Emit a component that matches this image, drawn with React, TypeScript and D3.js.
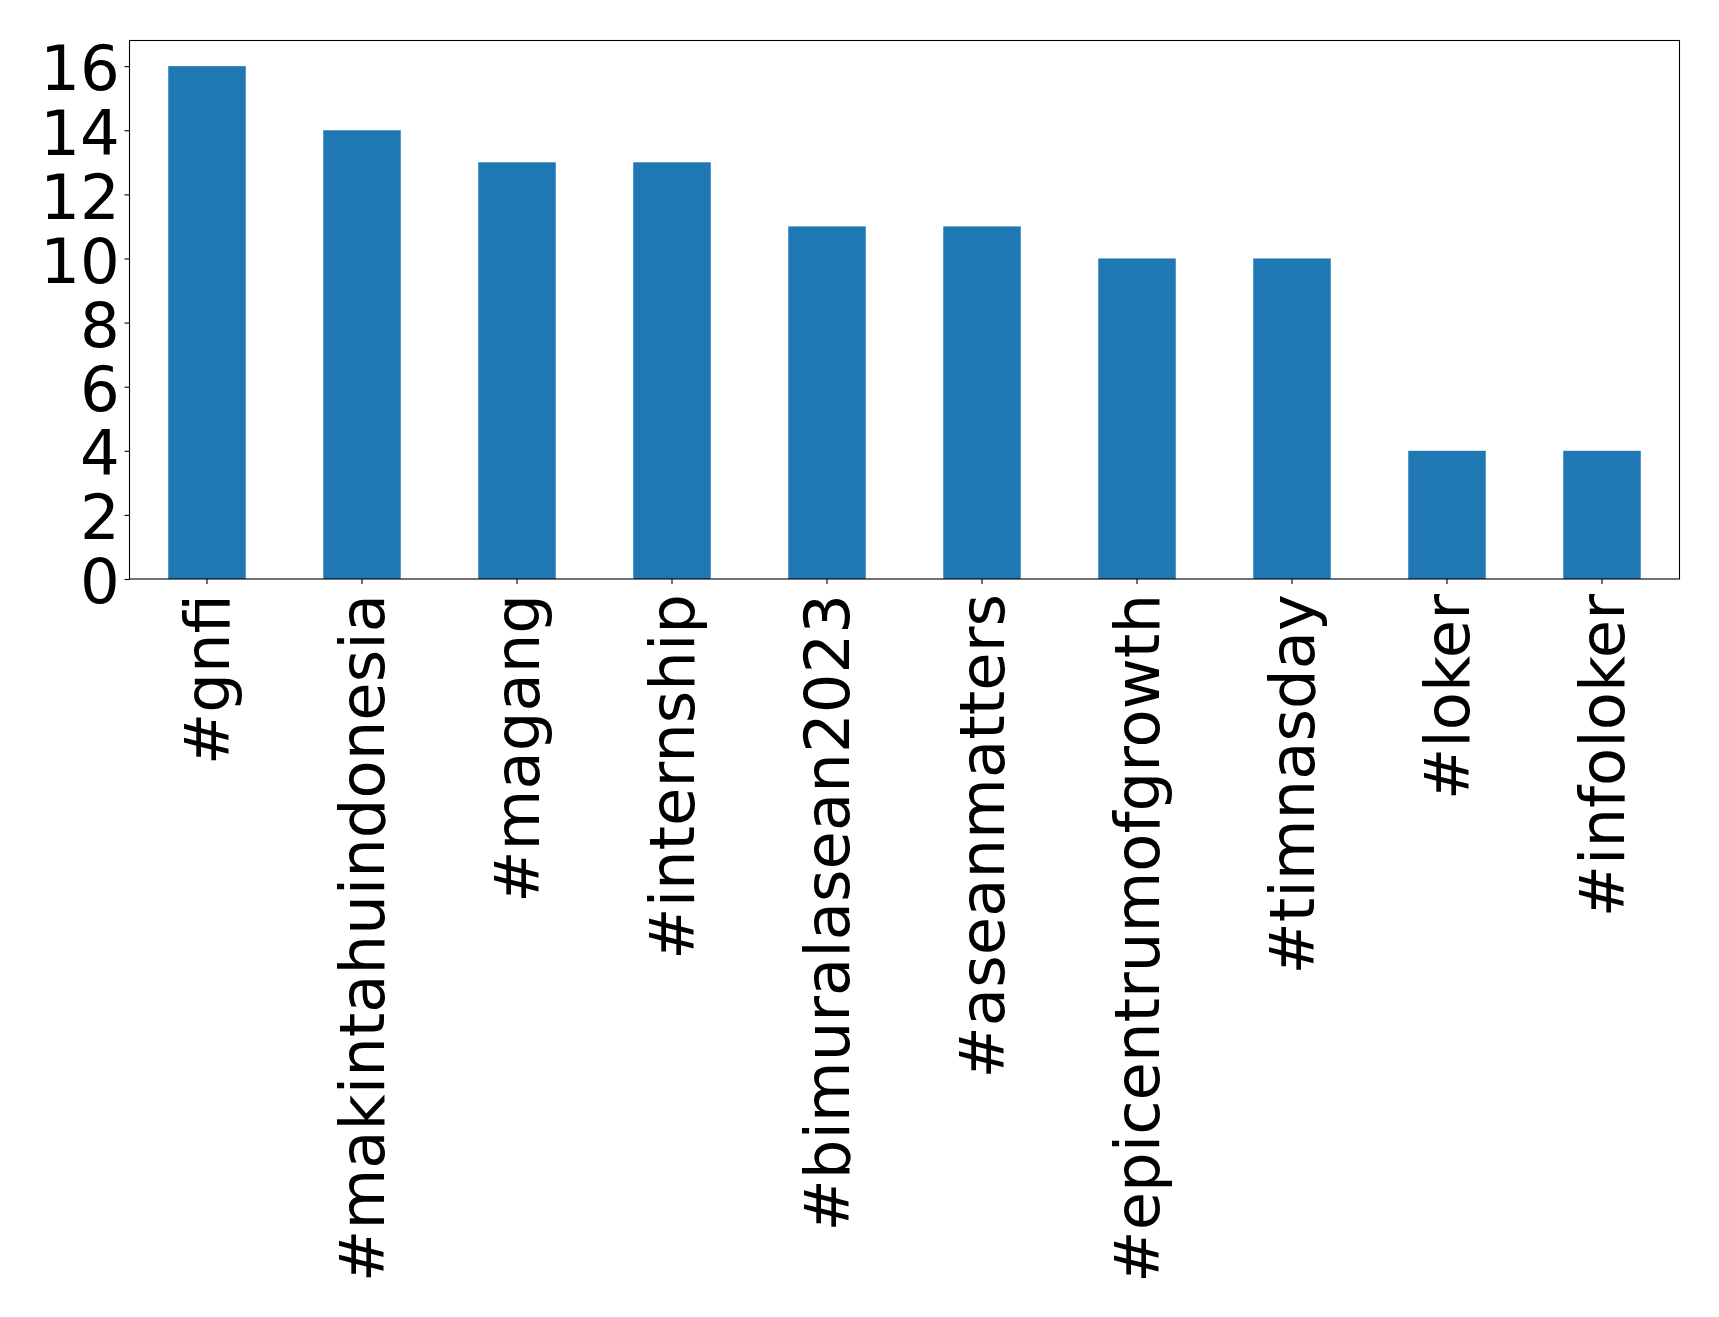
import React, {useEffect, useRef} from 'react';
import * as d3 from 'd3';

// hashtag counts
const hashtags = [
  '#gnfi',
  '#makintahuindonesia',
  '#magang',
  '#internship',
  '#bimuralasean2023',
  '#aseanmatters',
  '#epicentrumofgrowth',
  '#timnasday',
  '#loker',
  '#infoloker',
];
const counts = [16, 14, 13, 13, 11, 11, 10, 10, 4, 4];
const yTicks = [0, 2, 4, 6, 8, 10, 12, 14, 16];

const WIDTH = 1719;
const HEIGHT = 1317;

const App: React.FC = () => {
  const svgRef = useRef<SVGSVGElement>(null);

  useEffect(() => {
    if (!svgRef.current) return;
    d3.select(svgRef.current).selectAll('*').remove();

    const margin = {top: 40.5, right: 39.5, bottom: 738, left: 129.5};
    const width = WIDTH - margin.left - margin.right;
    const height = HEIGHT - margin.top - margin.bottom;
    const font = 'DejaVu Sans, sans-serif';
    const fontSize = 62.5;

    const svg = d3
      .select(svgRef.current)
      .attr('width', WIDTH)
      .attr('height', HEIGHT)
      .append('g')
      .attr('transform', `translate(${margin.left},${margin.top})`);

    // band scale over the categories, like matplotlib's -0.5..n-0.5
    const x = d3
      .scaleBand()
      .domain(hashtags)
      .range([0, width])
      .paddingInner(0.5)
      .paddingOuter(0.25);

    const y = d3
      .scaleLinear()
      .domain([0, (d3.max(counts) || 0) * 1.05])
      .range([height, 0]);

    // bars
    svg
      .selectAll('.bar')
      .data(counts)
      .enter()
      .append('rect')
      .attr('class', 'bar')
      .attr('x', (_d, i) => x(hashtags[i]) || 0)
      .attr('width', x.bandwidth())
      .attr('y', (d) => y(d))
      .attr('height', (d) => height - y(d))
      .attr('fill', '#1f77b4');

    // x axis
    const xAxis = svg
      .append('g')
      .attr('transform', `translate(0,${height})`)
      .call(d3.axisBottom(x).tickSize(4.9).tickPadding(4.9));
    xAxis.select('.domain').remove();
    xAxis.selectAll('line').attr('stroke', '#000').attr('stroke-width', 1.1);
    xAxis
      .selectAll('text')
      .attr('font-family', font)
      .attr('font-size', fontSize)
      .attr('fill', '#000')
      .attr('transform', 'rotate(-90)')
      .attr('x', -15)
      .attr('y', 0)
      .attr('dy', '0.35em')
      .style('text-anchor', 'end');

    // y axis
    const yAxis = svg
      .append('g')
      .call(
        d3
          .axisLeft(y)
          .tickValues(yTicks)
          .tickFormat(d3.format('d'))
          .tickSize(4.9)
          .tickPadding(4.9),
      );
    yAxis.select('.domain').remove();
    yAxis.selectAll('line').attr('stroke', '#000').attr('stroke-width', 1.1);
    yAxis
      .selectAll('text')
      .attr('font-family', font)
      .attr('font-size', fontSize)
      .attr('fill', '#000')
      .attr('dy', '0.38em');

    // frame
    svg
      .append('rect')
      .attr('width', width)
      .attr('height', height)
      .attr('fill', 'none')
      .attr('stroke', '#000')
      .attr('stroke-width', 1.1);
  }, []);

  return (
    <div style={{position: 'absolute', left: 0, top: 0, background: '#fff'}}>
      <svg ref={svgRef} />
    </div>
  );
};

export default App;
